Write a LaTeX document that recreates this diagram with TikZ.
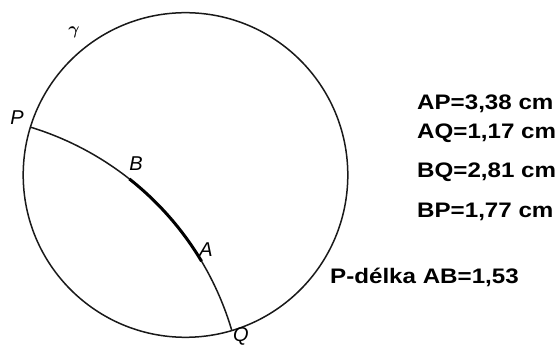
\documentclass[tikz,border=0pt]{standalone}
\usepackage{fontspec}
\usepackage{amsmath}
\usetikzlibrary{calc}
\newfontfamily\arialf{Liberation Sans}
\begin{document}
\begin{tikzpicture}[x=1pt,y=1pt,
  circ/.style={line width=1.5pt,black!90},
  geo/.style={line width=1.5pt,black!90},
  seg/.style={line width=3pt,black},
  ptlabel/.style={font=\arialf\itshape\fontsize{20}{24}\selectfont,inner sep=0pt},
  info/.style={font=\arialf\bfseries\fontsize{21}{25}\selectfont,inner sep=0pt,anchor=base west}]
\useasboundingbox (0,0) rectangle (558,346);
\fill[white] (0,0) rectangle (558,346);
% circle gamma
\coordinate (O) at (185.5,171);
\draw[circ] (O) circle[radius=162.3pt];
% geodesic arc
\coordinate (C) at (-57.6,-69.7);
\coordinate (P) at ($(C)+(73.1:301.7pt)$);
\coordinate (Q) at ($(C)+(16.5:301.7pt)$);
\coordinate (B) at ($(C)+(51.7:301.7pt)$);
\coordinate (A) at ($(C)+(30.8:301.7pt)$);
\draw[geo] (P) arc[start angle=73.1,end angle=16.5,radius=301.7pt];
\draw[seg] (B) arc[start angle=51.7,end angle=30.8,radius=301.7pt];
% labels
\node[ptlabel] (lP) at (17,228) {P};
\node[ptlabel] (lB) at (136,182) {B};
\node[ptlabel] (lA) at (206,96) {A};
\node[ptlabel,anchor=base] (lQ) at (241,4) {Q};
\node[inner sep=0pt,font=\fontsize{18}{20}\selectfont] (lg) at (74,314) {$\boldsymbol{\gamma}$};
% info texts
\node[info] (t1) at (417,236) {\scalebox{1.15}[1]{AP=3,38 cm}};
\node[info] (t2) at (417,207) {\scalebox{1.15}[1]{AQ=1,17 cm}};
\node[info] (t3) at (417,168) {\scalebox{1.15}[1]{BQ=2,81 cm}};
\node[info] (t4) at (417,128) {\scalebox{1.15}[1]{BP=1,77 cm}};
\node[info] (t5) at (330,62) {\scalebox{1.15}[1]{P-délka AB=1,53}};
\end{tikzpicture}
\end{document}
